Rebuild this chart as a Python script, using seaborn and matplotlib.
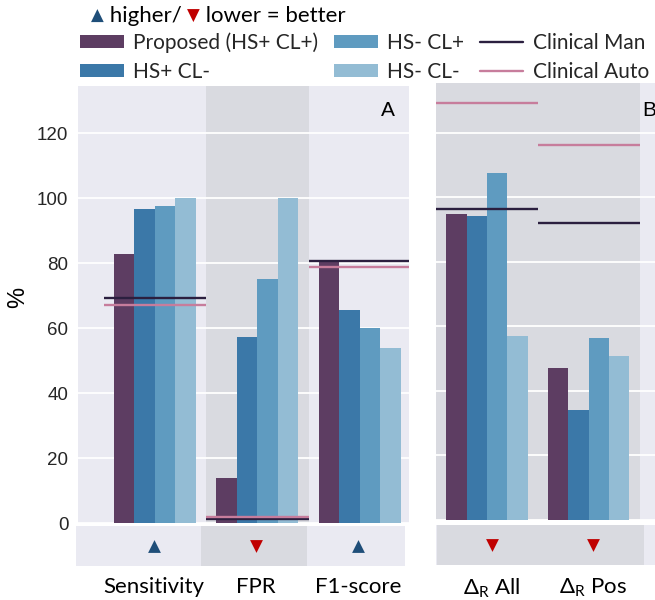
import matplotlib
matplotlib.use("Agg")
import matplotlib.pyplot as plt
import seaborn as sns
import pandas as pd
import numpy as np
from matplotlib.patches import Patch
from matplotlib.lines import Line2D

# ---------------- data ----------------
methods = ["Proposed (HS+ CL+)", "HS+ CL-", "HS- CL+", "HS- CL-"]
metrics_a = ["Sensitivity", "FPR", "F1-score"]
metrics_b = ["Δ$_\\mathregular{R}$ All", "Δ$_\\mathregular{R}$ Pos"]

sensitivity = [82.9, 96.5, 97.7, 100.0]
fpr = [14.0, 57.3, 75.2, 100.0]
f1_score = [80.2, 65.6, 59.9, 54.0]
delta_all = [94.8, 94.3, 107.5, 57.1]
delta_pos = [47.0, 34.2, 56.3, 50.7]

clinical_man_a = [69.1, 1.3, 80.7]
clinical_auto_a = [67.0, 1.9, 78.7]
clinical_man_b = [96.3, 92.2]
clinical_auto_b = [129.4, 116.4]

direction_a = ["up", "down", "up"]
direction_b = ["down", "down"]

yticks = [0, 20, 40, 60, 80, 100, 120]

# ---------------- style ----------------
bar_colors = ["#5D3D62", "#3B78A8", "#5F9BC0", "#93BCD4"]
man_color = "#2B1F3F"
auto_color = "#C77D9C"
shade = "#D9DAE0"
face = "#EAEAF2"
up_color = "#1F4E79"
down_color = "#C00000"
label_font = ["Lato", "DejaVu Sans"]

sns.set_theme(style="darkgrid")
plt.rcParams["font.family"] = ["Liberation Sans", "DejaVu Sans"]

W, H = 655, 600
fig = plt.figure(figsize=(W / 100, H / 100), dpi=100)


def rect(l, t, r, b):
    return [l / W, 1 - b / H, (r - l) / W, (b - t) / H]


axA = fig.add_axes(rect(78, 86, 409, 523))
axB = fig.add_axes(rect(436, 83, 660, 520))
sA = fig.add_axes(rect(76, 526, 405, 566))
sB = fig.add_axes(rect(436, 525, 660, 565))

dfA = pd.DataFrame({
    "metric": np.repeat(metrics_a, len(methods)),
    "method": methods * len(metrics_a),
    "value": sensitivity + fpr + f1_score,
})
dfB = pd.DataFrame({
    "metric": np.repeat(metrics_b, len(methods)),
    "method": methods * len(metrics_b),
    "value": delta_all + delta_pos,
})


def draw_panel(ax, df, metrics, directions, man, auto, xlim, ylim):
    ax.set_facecolor(face)
    ax.set_axisbelow(True)
    for i, d in enumerate(directions):
        if d == "down":
            ax.axvspan(i - 0.5, i + 0.5, color=shade, lw=0, zorder=0.1)
    sns.barplot(data=df, x="metric", y="value", hue="method", hue_order=methods,
                palette=bar_colors, saturation=1, width=0.8, ax=ax,
                legend=False, zorder=2, linewidth=0)
    for i in range(len(metrics)):
        ax.hlines(man[i], i - 0.5, i + 0.5, color=man_color, lw=1.7, zorder=3)
        ax.hlines(auto[i], i - 0.5, i + 0.5, color=auto_color, lw=1.7, zorder=3)
    ax.set_xlim(*xlim)
    ax.set_ylim(*ylim)
    ax.set_xticks([])
    ax.set_xlabel("")
    ax.set_ylabel("")
    ax.set_yticks(yticks)
    ax.grid(axis="y", color="white", lw=1.3)
    ax.grid(axis="x", visible=False)
    for s in ax.spines.values():
        s.set_visible(False)


draw_panel(axA, dfA, metrics_a, direction_a, clinical_man_a, clinical_auto_a,
           (-0.75, 2.48), (0, 134.5))
draw_panel(axB, dfB, metrics_b, direction_b, clinical_man_b, clinical_auto_b,
           (-0.5, 1.70), (0, 135.5))

axA.tick_params(axis="y", labelsize=13.5, pad=7, length=0, labelcolor="#262626")
axB.tick_params(axis="y", labelleft=False, length=0)

fig.text(18 / W, 1 - 297 / H, "%", rotation=90, fontsize=17, color="black",
         ha="center", va="center")
fig.text(388 / W, 1 - 110 / H, "A", fontsize=15, ha="center", va="center",
         color="black")
fig.text(642 / W, 1 - 110 / H, "B", fontsize=15, ha="left", va="center",
         color="black")


def draw_strip(ax, metrics, directions, xlim):
    ax.set_facecolor(face)
    ax.grid(False)
    for s in ax.spines.values():
        s.set_visible(False)
    for i, d in enumerate(directions):
        if d == "down":
            ax.axvspan(i - 0.54, i + 0.5, color=shade, lw=0, zorder=0.1)
        ax.scatter(i, 0.5, marker="^" if d == "up" else "v", s=85,
                   color=up_color if d == "up" else down_color, zorder=3, lw=0)
    ax.set_xlim(*xlim)
    ax.set_ylim(0, 1)
    ax.set_yticks([])
    ax.set_xticks(range(len(metrics)))
    ax.set_xticklabels(metrics, fontsize=16, family=label_font)
    ax.tick_params(axis="x", length=0, pad=8, labelcolor="black")


draw_strip(sA, metrics_a, direction_a, (-0.76, 2.46))
draw_strip(sB, metrics_b, direction_b, (-0.55, 1.66))

# ---------------- legend ----------------
handles = [Patch(facecolor=c, edgecolor="none") for c in bar_colors]
handles += [Line2D([], [], color=man_color, lw=1.7),
            Line2D([], [], color=auto_color, lw=1.7)]
labels = methods + ["Clinical Man", "Clinical Auto"]
fig.legend(handles, labels, ncol=3, loc="upper left",
           bbox_to_anchor=(80 / W, 1 - 32 / H), frameon=False,
           prop={"family": label_font, "size": 15},
           handlelength=2.1, handleheight=0.6, handletextpad=0.45,
           columnspacing=0.75, labelspacing=0.45, borderpad=0,
           borderaxespad=0)

# direction key
t1 = fig.text(91 / W, 1 - 16 / H, "▲", color=up_color, fontsize=12,
              family=["DejaVu Sans"], va="center", ha="left")
t2 = plt.annotate(" higher/ ", xycoords=t1, xy=(1, 0.5), va="center",
                  fontsize=16, family=label_font, color="black",
                  annotation_clip=False)
t3 = plt.annotate("▼", xycoords=t2, xy=(1, 0.5), va="center", fontsize=12,
                  family=["DejaVu Sans"], color=down_color,
                  annotation_clip=False)
t4 = plt.annotate(" lower = better", xycoords=t3, xy=(1, 0.5), va="center",
                  fontsize=16, family=label_font, color="black",
                  annotation_clip=False)

fig.savefig("out.png", dpi=100)
